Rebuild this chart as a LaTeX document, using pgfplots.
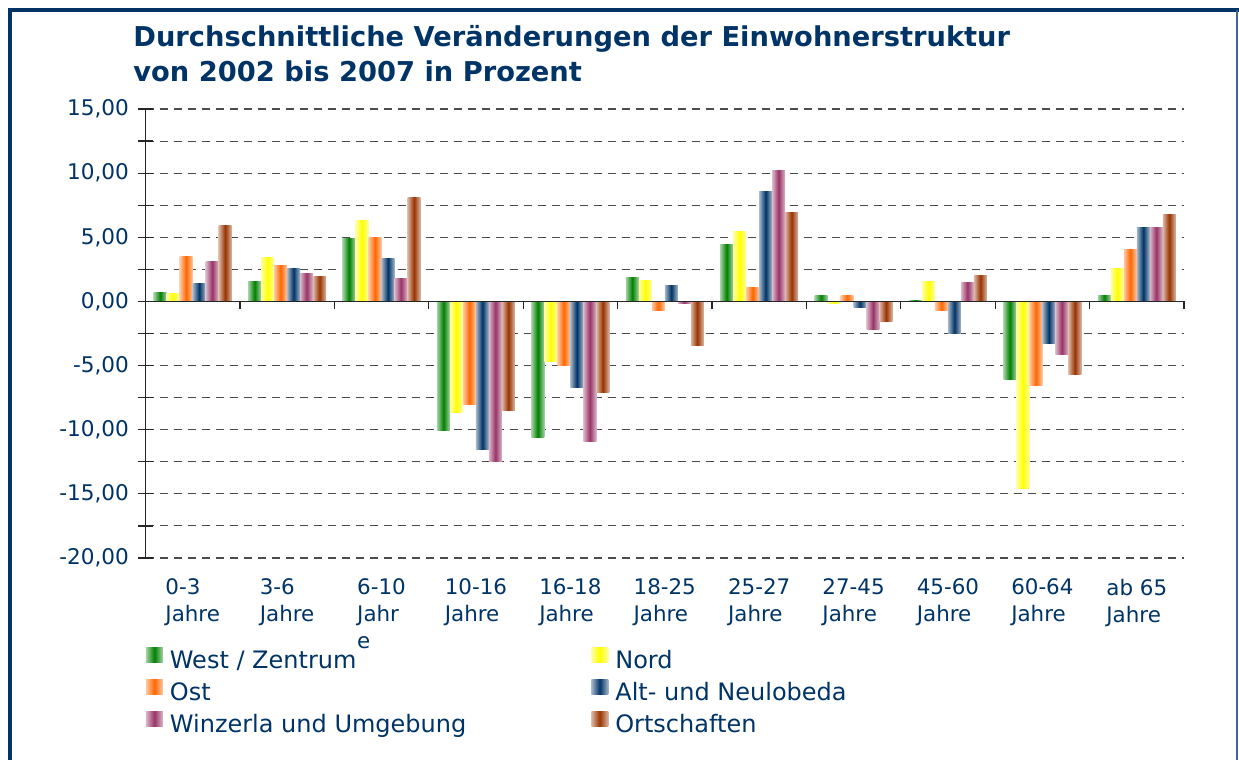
\documentclass[border=0pt]{standalone}
\usepackage{pgfplots}
\usepackage{pgfplotstable}
\pgfplotsset{compat=1.18}
\usepackage{fontspec}
\setmainfont{DejaVu Sans}

\definecolor{navy}{RGB}{0,51,102}
\definecolor{cwest}{RGB}{0,128,0}
\definecolor{cnord}{RGB}{255,255,0}
\definecolor{cost}{RGB}{255,102,0}
\definecolor{calt}{RGB}{0,51,102}
\definecolor{cwinz}{RGB}{153,51,102}
\definecolor{cort}{RGB}{153,51,0}

% Veraenderung in Prozent, 0 = 0-3 Jahre ... 10 = ab 65 Jahre
\pgfplotstableread{
x  west    nord    ost     alt     winz    ort
0  0.73    0.65    3.54    1.43    3.15    5.89
1  1.59    3.39    2.84    2.60    2.14    1.98
2  4.87    6.28    4.95    3.31    1.82    8.07
3  -10.03  -8.62   -8.07   -11.51  -12.45  -8.54
4  -10.57  -4.71   -5.03   -6.67   -10.89  -7.06
5  1.90    1.67    -0.73   1.28    -0.16   -3.46
6  4.40    5.42    1.12    8.54    10.18   6.90
7  0.49    -0.16   0.49    -0.49   -2.21   -1.59
8  0.10    1.59    -0.73   -2.53   1.51    2.06
9  -6.12   -14.56  -6.59   -3.31   -4.17   -5.73
10 0.49    2.60    4.01    5.73    5.73    6.74
}\datatable

\pgfplotsset{
  shbar/.style={draw=none, left color=#1!35!white, right color=#1!35!white, middle color=#1},
}

% one path per bar, so that each bar gets its own shading
% #1 colour, #2 column, #3 bar shift
\newcommand\barseries[3]{%
  \pgfplotsinvokeforeach{0,...,10}{%
    \addplot[shbar=#1, bar shift=#3, forget plot]
      table[x=x, y=#2, restrict expr to domain={\coordindex}{##1:##1}] {\datatable};
  }%
}

\begin{document}
\begin{tikzpicture}
\useasboundingbox (0,0) rectangle (619.5pt,-380pt);
\draw[navy, line width=2pt] (4.75pt,-381pt) -- (4.75pt,-4.75pt) -- (619.5pt,-4.75pt);
\draw[navy!75, line width=1pt] (618.3pt,-4.75pt) -- (618.3pt,-381pt);

\node[anchor=base west, inner sep=0, text=navy, font=\bfseries\fontsize{13.65}{16}\selectfont]
  at (66.5pt,-23.4pt) {Durchschnittliche Veränderungen der Einwohnerstruktur};
\node[anchor=base west, inner sep=0, text=navy, font=\bfseries\fontsize{13.65}{16}\selectfont]
  at (66.5pt,-40.9pt) {von 2002 bis 2007 in Prozent};

\begin{axis}[
  at={(72.75pt,-279pt)}, anchor=south west,
  scale only axis, width=519.25pt, height=224.5pt,
  xmin=-0.5, xmax=10.5, ymin=-20, ymax=15,
  axis lines*=left,
  x axis line style={draw=none},
  y axis line style={black!85, line width=0.6pt},
  ybar=0pt, bar width=0.1377,
  xtick={0,...,10},
  xticklabels={{0-3\\Jahre},{3-6\\Jahre},{6-10\\Jahr\\e},{10-16\\Jahre},{16-18\\Jahre},{18-25\\Jahre},{25-27\\Jahre},{27-45\\Jahre},{45-60\\Jahre},{60-64\\Jahre},{ab 65\\Jahre}},
  xtick style={draw=none},
  xticklabel style={align=left, anchor=north, yshift=-3.2pt, text=navy, font=\fontsize{10.7}{13.5}\selectfont},
  ytick={-20,-15,...,15},
  minor ytick={-17.5,-12.5,...,12.5},
  ytick style={black!85, line width=0.6pt},
  minor tick style={black!85, line width=0.6pt},
  tick align=center,
  major tick length=7.5pt, minor tick length=7.5pt,
  ymajorgrids, yminorgrids,
  major grid style={black!70, line width=0.55pt, dash pattern=on 4pt off 3pt},
  minor grid style={black!70, line width=0.55pt, dash pattern=on 4pt off 3pt},
  yticklabel style={text=navy, font=\fontsize{10.8}{12}\selectfont, xshift=-1pt,
    /pgf/number format/.cd, fixed, fixed zerofill, precision=2, use comma, assume math mode=true},
  legend columns=2,
  legend cell align=left,
  legend image code/.code={\path[#1] (0pt,-0.2pt) rectangle (8.5pt,7.3pt);},
  legend style={draw=none, fill=none, inner sep=0pt,
    at={(axis description cs:0,0)}, anchor=north west, xshift=0pt, yshift=-44.5pt,
    font=\fontsize{12}{14}\selectfont, text=navy,
    nodes={inner sep=1.5pt, text height=9pt, text depth=2.7pt},
    row sep=1.2pt,
    /tikz/every odd column/.append style={column sep=2pt},
    /tikz/every even column/.append style={column sep=61pt}},
]
\barseries{cwest}{west}{-0.34425}
\barseries{cnord}{nord}{-0.20655}
\barseries{cost}{ost}{-0.06885}
\barseries{calt}{alt}{0.06885}
\barseries{cwinz}{winz}{0.20655}
\barseries{cort}{ort}{0.34425}
\addlegendimage{shbar=cwest}
\addlegendimage{shbar=cnord}
\addlegendimage{shbar=cost}
\addlegendimage{shbar=calt}
\addlegendimage{shbar=cwinz}
\addlegendimage{shbar=cort}
\legend{West / Zentrum, Nord, Ost, Alt- und Neulobeda, Winzerla und Umgebung, Ortschaften}
\end{axis}

\begin{axis}[
  at={(72.75pt,-279pt)}, anchor=south west,
  scale only axis, width=519.25pt, height=224.5pt,
  xmin=-0.5, xmax=10.5, ymin=-20, ymax=15,
  axis x line=middle, axis y line=none,
  x axis line style={-, black!85, line width=0.8pt},
  xtick={-0.5,0.5,...,10.5}, xticklabels={},
  xtick align=outside, major tick length=4pt,
  xtick style={black!85, line width=0.6pt},
  ytick=\empty,
]
\end{axis}
\end{tikzpicture}
\end{document}
